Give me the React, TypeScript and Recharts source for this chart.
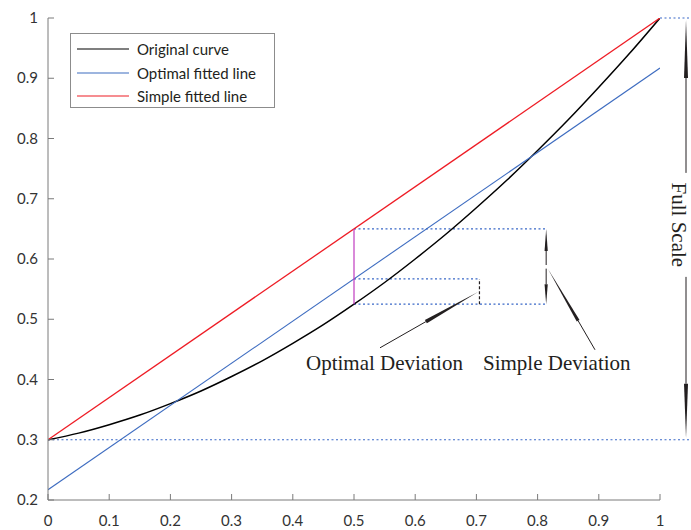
import React from 'react'
import { LineChart, Line, XAxis, YAxis, ReferenceLine, Legend } from 'recharts'

// original (nonlinear) sensor curve
const curveX = [0, 0.05, 0.1, 0.15, 0.2, 0.25, 0.3, 0.35, 0.4, 0.45, 0.5, 0.55, 0.6, 0.65, 0.7, 0.75, 0.8, 0.85, 0.9, 0.95, 1]
const curveY = [0.3, 0.311, 0.325, 0.341, 0.36, 0.381, 0.405, 0.431, 0.46, 0.491, 0.525, 0.561, 0.6, 0.641, 0.685, 0.731, 0.78, 0.831, 0.885, 0.941, 1]

// fitted straight lines (end points)
const fitX = [0, 1]
const optimalY = [0.217, 0.917]
const simpleY = [0.3, 1]

const seriesNames = ['Original curve', 'Optimal fitted line', 'Simple fitted line']

const xTicks = [0, 0.1, 0.2, 0.3, 0.4, 0.5, 0.6, 0.7, 0.8, 0.9, 1]
const yTicks = [0.2, 0.3, 0.4, 0.5, 0.6, 0.7, 0.8, 0.9, 1]

// deviation annotation levels
const probeX = 0.5
const curveAtProbe = 0.525
const optimalAtProbe = 0.567
const simpleAtProbe = 0.65
const optimalMarkX = 0.705
const simpleMarkX = 0.814
const zeroLevel = 0.3
const fullLevel = 1
const edgeX = 1.05
const fullScaleX = 1.0425

const optimalArrow = [{ x: 0.5425, y: 0.4526 }, { x: 0.7026, y: 0.5454 }]
const simpleArrow = [{ x: 0.8938, y: 0.4493 }, { x: 0.817, y: 0.5836 }]
const optimalLabelAt = { x: 0.4216, y: 0.416 }
const simpleLabelAt = { x: 0.7108, y: 0.416 }

const originalData = curveX.map((x, i) => ({ x, y: curveY[i] }))
const optimalData = fitX.map((x, i) => ({ x, y: optimalY[i] }))
const simpleData = fitX.map((x, i) => ({ x, y: simpleY[i] }))

const AXIS = '#7a7a7a'
const INK = '#231f20'
const DOTTED = '#3a68c8'
const SANS = 'Lato, "Open Sans", sans-serif'
const SERIF = '"Liberation Serif", "DejaVu Serif", serif'

const fmt = (v: number) => String(Number(v.toFixed(1)))

const BottomTick = (p: any) => (
  <g>
    <line x1={p.x} y1={p.y} x2={p.x} y2={p.y - 6} stroke={AXIS} />
    <text x={p.x} y={p.y + 26} textAnchor="middle" fontSize={15} fontFamily={SANS} fill="#333">
      {fmt(p.payload.value)}
    </text>
  </g>
)

const LeftTick = (p: any) => (
  <g>
    <line x1={p.x} y1={p.y} x2={p.x + 6} y2={p.y} stroke={AXIS} />
    <text x={p.x - 10} y={p.y + 5} textAnchor="end" fontSize={15} fontFamily={SANS} fill="#333">
      {fmt(p.payload.value)}
    </text>
  </g>
)

const TopTick = (p: any) => <line x1={p.x} y1={p.y} x2={p.x} y2={p.y + 6} stroke={AXIS} />
const RightTick = (p: any) => <line x1={p.x} y1={p.y} x2={p.x - 6} y2={p.y} stroke={AXIS} />

// line ending in a long, narrow filled head
function Arrow({ x1, y1, x2, y2, head = 50, half = 2.2 }: any) {
  const len = Math.hypot(x2 - x1, y2 - y1)
  const ux = (x2 - x1) / len
  const uy = (y2 - y1) / len
  const bx = x2 - ux * head
  const by = y2 - uy * head
  const px = -uy * half
  const py = ux * half
  return (
    <g>
      <line x1={x1} y1={y1} x2={bx} y2={by} stroke={INK} strokeWidth={1} />
      <polygon points={`${x2},${y2} ${bx + px},${by + py} ${bx - px},${by - py}`} fill={INK} />
    </g>
  )
}

const textShape = (label: string) => (p: any) => (
  <text x={p.x1} y={p.y1} fontSize={21} fontFamily={SERIF} fill={INK}>
    {label}
  </text>
)

// vertical double arrow with a rotated caption in the gap
const FullScale = (p: any) => {
  const mid = (p.y1 + p.y2) / 2 - 4
  const tx = p.x1 - 7
  return (
    <g>
      <Arrow x1={p.x1} y1={mid - 52} x2={p.x1} y2={p.y1 + 2} head={58} half={2} />
      <Arrow x1={p.x1} y1={mid + 52} x2={p.x1} y2={p.y2 - 2} head={54} half={2} />
      <text
        x={tx}
        y={mid}
        transform={`rotate(90 ${tx} ${mid})`}
        textAnchor="middle"
        dominantBaseline="central"
        fontSize={21}
        fontFamily={SERIF}
        fill={INK}
      >
        Full Scale
      </text>
    </g>
  )
}

const LegendBox = (props: any) => {
  const items = [...(props.payload || [])].sort(
    (a: any, b: any) => seriesNames.indexOf(a.value) - seriesNames.indexOf(b.value)
  )
  return (
    <div
      style={{
        width: 205,
        height: 75,
        boxSizing: 'border-box',
        border: '1px solid #8c8c8c',
        background: '#fff',
        position: 'relative',
      }}
    >
      {items.map((it: any, i: number) => (
        <div key={it.value} style={{ position: 'absolute', left: 0, top: 3 + i * 23.5, height: 24, display: 'flex', alignItems: 'center' }}>
          <svg width={62} height={24}>
            <line x1={6} y1={12} x2={58} y2={12} stroke={it.color} strokeWidth={1.2} />
          </svg>
          <span style={{ fontFamily: SANS, fontSize: 15, color: INK, marginLeft: 4, whiteSpace: 'nowrap' }}>{it.value}</span>
        </div>
      ))}
    </div>
  )
}

export default function App() {
  return (
    <div style={{ position: 'absolute', left: 0, top: 0, width: 691, height: 530, background: '#fff' }}>
      <LineChart width={691} height={530} margin={{ top: 18, right: 31, bottom: 0, left: 0 }}>
        <XAxis
          dataKey="x"
          type="number"
          domain={[0, 1]}
          ticks={xTicks}
          interval={0}
          height={30}
          tickSize={0}
          tickMargin={0}
          tick={<BottomTick />}
          axisLine={{ stroke: AXIS }}
          allowDataOverflow
        />
        <XAxis
          xAxisId="top"
          orientation="top"
          type="number"
          domain={[0, 1]}
          ticks={xTicks}
          interval={0}
          height={0}
          tickSize={0}
          tickMargin={0}
          tick={<TopTick />}
          axisLine={{ stroke: AXIS }}
          allowDataOverflow
        />
        <YAxis
          type="number"
          domain={[0.2, 1]}
          ticks={yTicks}
          interval={0}
          width={48}
          tickSize={0}
          tickMargin={0}
          tick={<LeftTick />}
          axisLine={{ stroke: AXIS }}
          allowDataOverflow
        />
        <YAxis
          yAxisId="right"
          orientation="right"
          type="number"
          domain={[0.2, 1]}
          ticks={yTicks}
          interval={0}
          width={0}
          tickSize={0}
          tickMargin={0}
          tick={<RightTick />}
          axisLine={{ stroke: AXIS }}
          allowDataOverflow
        />

        <Legend
          layout="horizontal"
          verticalAlign="middle"
          align="center"
          wrapperStyle={{ left: 70, top: 33, width: 205, height: 75 }}
          content={LegendBox}
        />

        {/* dotted guide lines */}
        <ReferenceLine segment={[{ x: 0, y: zeroLevel }, { x: edgeX, y: zeroLevel }]} stroke={DOTTED} strokeWidth={1.2} strokeDasharray="2 2.5" ifOverflow="visible" />
        <ReferenceLine segment={[{ x: 1, y: fullLevel }, { x: edgeX, y: fullLevel }]} stroke={DOTTED} strokeWidth={1.2} strokeDasharray="2 2.5" ifOverflow="visible" />
        <ReferenceLine segment={[{ x: probeX, y: simpleAtProbe }, { x: simpleMarkX, y: simpleAtProbe }]} stroke={DOTTED} strokeWidth={1.2} strokeDasharray="2 2.5" />
        <ReferenceLine segment={[{ x: probeX, y: optimalAtProbe }, { x: optimalMarkX, y: optimalAtProbe }]} stroke={DOTTED} strokeWidth={1.2} strokeDasharray="2 2.5" />
        <ReferenceLine segment={[{ x: probeX, y: curveAtProbe }, { x: simpleMarkX, y: curveAtProbe }]} stroke={DOTTED} strokeWidth={1.2} strokeDasharray="2 2.5" />

        <Line data={originalData} dataKey="y" name={seriesNames[0]} stroke="#000" strokeWidth={1.5} dot={false} type="monotone" isAnimationActive={false} />
        <Line data={optimalData} dataKey="y" name={seriesNames[1]} stroke="#3d6cc0" strokeWidth={1.1} dot={false} isAnimationActive={false} />
        <Line data={simpleData} dataKey="y" name={seriesNames[2]} stroke="#ee1c25" strokeWidth={1.3} dot={false} isAnimationActive={false} />

        {/* deviation markers */}
        <ReferenceLine segment={[{ x: probeX, y: curveAtProbe }, { x: probeX, y: simpleAtProbe }]} stroke="#c03cc0" strokeWidth={1.2} />
        <ReferenceLine segment={[{ x: optimalMarkX, y: curveAtProbe }, { x: optimalMarkX, y: optimalAtProbe }]} stroke={INK} strokeWidth={1.2} strokeDasharray="3 2" />
        <ReferenceLine
          segment={[{ x: simpleMarkX, y: 0.59 }, { x: simpleMarkX, y: simpleAtProbe }]}
          shape={(p: any) => <Arrow {...p} head={22} half={1.6} />}
        />
        <ReferenceLine
          segment={[{ x: simpleMarkX, y: 0.584 }, { x: simpleMarkX, y: curveAtProbe }]}
          shape={(p: any) => <Arrow {...p} head={20} half={1.6} />}
        />

        {/* callouts */}
        <ReferenceLine segment={optimalArrow} shape={(p: any) => <Arrow {...p} head={60} half={2} />} />
        <ReferenceLine segment={simpleArrow} shape={(p: any) => <Arrow {...p} head={60} half={1.6} />} />
        <ReferenceLine segment={[optimalLabelAt, optimalLabelAt]} shape={textShape('Optimal Deviation')} />
        <ReferenceLine segment={[simpleLabelAt, simpleLabelAt]} shape={textShape('Simple Deviation')} />
        <ReferenceLine
          segment={[{ x: fullScaleX, y: fullLevel }, { x: fullScaleX, y: zeroLevel }]}
          ifOverflow="visible"
          shape={FullScale}
        />
      </LineChart>
    </div>
  )
}
